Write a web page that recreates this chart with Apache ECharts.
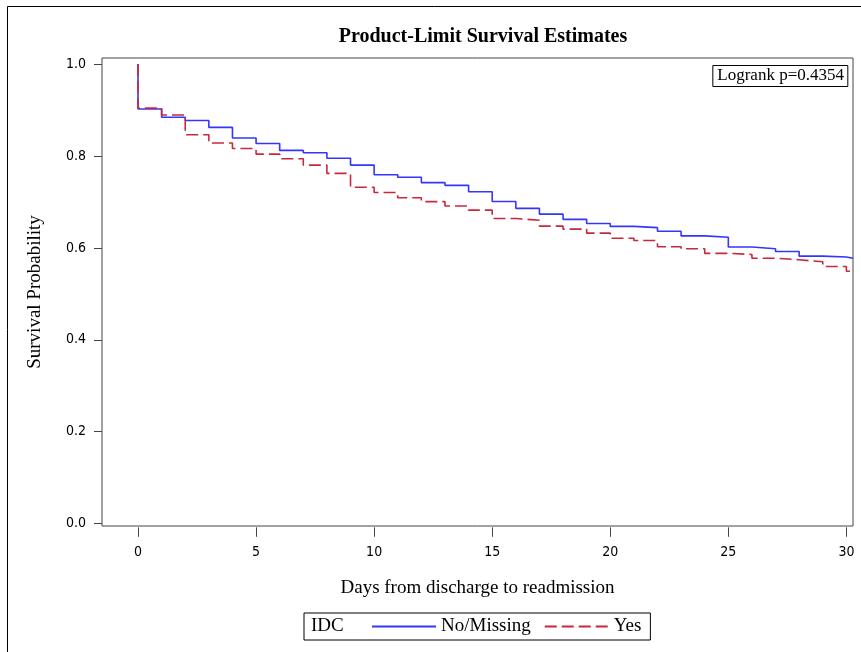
<!DOCTYPE html>
<html>
<head>
<meta charset="utf-8">
<script src="https://cdn.jsdelivr.net/npm/echarts@6/dist/echarts.min.js"></script>
<style>
  html, body { margin: 0; padding: 0; background: #fff; }
  #chart { width: 861px; height: 652px; }
</style>
</head>
<body>
<div id="chart"></div>
<script>
// Kaplan-Meier estimates, one value per day (0..30)
const days = [0, 1, 2, 3, 4, 5, 6, 7, 8, 9, 10, 11, 12, 13, 14, 15, 16, 17, 18, 19, 20,
  21, 22, 23, 24, 25, 26, 27, 28, 29, 30];
const noMissing = [0.902, 0.884, 0.877, 0.862, 0.839, 0.827, 0.812, 0.807, 0.795, 0.780,
  0.759, 0.7535, 0.742, 0.736, 0.722, 0.701, 0.686, 0.6735, 0.662, 0.653, 0.6467,
  0.644, 0.636, 0.626, 0.623, 0.602, 0.598, 0.592, 0.582, 0.580, 0.5775];
const yes = [0.904, 0.889, 0.846, 0.828, 0.816, 0.804, 0.794, 0.780, 0.762, 0.732,
  0.7205, 0.709, 0.7005, 0.691, 0.682, 0.664, 0.660, 0.6474, 0.6408, 0.632, 0.621,
  0.616, 0.6024, 0.598, 0.588, 0.5856, 0.5775, 0.574, 0.5697, 0.5594, 0.549];
const xTicks = [0, 5, 10, 15, 20, 25, 30];
const yTicks = [0.0, 0.2, 0.4, 0.6, 0.8, 1.0];
const pValue = '0.4354';

const X_MIN = -1.525;
const X_MAX = 30.28;
const SERIF = "'Liberation Serif', 'Times New Roman', serif";
const NARROW = "'DejaVu Sans Condensed', 'Liberation Sans Narrow', 'Liberation Sans', sans-serif";

function kmPoints(surv) {
  const pts = [[days[0], 1.0]];
  days.forEach((d, i) => pts.push([d, surv[i]]));
  pts.push([X_MAX, surv[surv.length - 1]]);
  return pts;
}

const hiddenAxis = (gridIndex) => ({ gridIndex, type: 'value', show: false, min: 0, max: 1 });

const chart = echarts.init(document.getElementById('chart'));

chart.setOption({
  animation: false,
  backgroundColor: '#fff',
  title: [
    {
      text: 'Product-Limit Survival Estimates',
      left: 478,
      textAlign: 'center',
      top: 22,
      textStyle: { fontFamily: SERIF, fontSize: 20, fontWeight: 'bold', color: '#000' },
    },
    {
      text: 'Logrank p=' + pValue,
      right: 13,
      top: 65,
      padding: [2, 4, 3, 5],
      borderColor: '#000',
      borderWidth: 1,
      textStyle: { fontFamily: SERIF, fontSize: 17, fontWeight: 'normal', color: '#000' },
    },
  ],
  legend: {
    left: 304,
    top: 613,
    padding: [4, 9, 4, 67],
    borderColor: '#000',
    borderWidth: 1,
    itemWidth: 64,
    itemHeight: 16,
    itemGap: 13,
    itemStyle: { opacity: 0 },
    textStyle: { fontFamily: SERIF, fontSize: 19, color: '#000', lineHeight: 18 },
    data: ['No/Missing', 'Yes'],
  },
  graphic: [
    {
      type: 'rect',
      shape: { x: 7.5, y: 6.5, width: 900, height: 700 },
      style: { fill: 'none', stroke: '#000', lineWidth: 1 },
      silent: true,
      z: -1,
    },
    {
      type: 'text',
      left: 311,
      top: 617,
      style: { text: 'IDC', fontFamily: SERIF, fontSize: 19, fill: '#000' },
    },
  ],
  grid: [
    { left: 102, right: 8, top: 58, bottom: 126, show: true, borderColor: '#444', borderWidth: 1 },
    { left: 138, right: 14.6, top: 58, bottom: 124.7 },
    { left: 102, right: 8, top: 64.5, bottom: 128.7 },
  ],
  xAxis: [
    {
      gridIndex: 0,
      type: 'value',
      min: X_MIN,
      max: X_MAX,
      axisLine: { show: false },
      axisTick: { show: false },
      axisLabel: { show: false },
      splitLine: { show: false },
      name: 'Days from discharge to readmission',
      nameLocation: 'middle',
      nameGap: 53,
      nameTextStyle: { fontFamily: SERIF, fontSize: 19, color: '#000' },
    },
    {
      gridIndex: 1,
      type: 'value',
      min: xTicks[0],
      max: xTicks[xTicks.length - 1],
      interval: xTicks[1] - xTicks[0],
      axisLine: { show: false },
      axisTick: { show: true, length: 9.5, lineStyle: { color: '#444', width: 1 } },
      axisLabel: { margin: 18, fontFamily: NARROW, fontSize: 14, color: '#000' },
      splitLine: { show: false },
    },
    hiddenAxis(2),
  ],
  yAxis: [
    {
      gridIndex: 0,
      type: 'value',
      min: -0.005,
      max: 1.013,
      axisLine: { show: false },
      axisTick: { show: false },
      axisLabel: { show: false },
      splitLine: { show: false },
      name: 'Survival Probability',
      nameLocation: 'middle',
      nameRotate: 90,
      nameGap: 57,
      nameTextStyle: { fontFamily: SERIF, fontSize: 19, color: '#000' },
    },
    hiddenAxis(1),
    {
      gridIndex: 2,
      type: 'value',
      min: yTicks[0],
      max: yTicks[yTicks.length - 1],
      interval: 0.2,
      axisLine: { show: false },
      axisTick: { show: true, length: 8, lineStyle: { color: '#444', width: 1 } },
      axisLabel: {
        margin: 16,
        fontFamily: NARROW,
        fontSize: 14,
        color: '#000',
        formatter: (v) => v.toFixed(1),
      },
      splitLine: { show: false },
    },
  ],
  series: [
    {
      name: 'No/Missing',
      type: 'line',
      xAxisIndex: 0,
      yAxisIndex: 0,
      step: 'end',
      symbol: 'none',
      data: kmPoints(noMissing),
      lineStyle: { color: '#3535ff', width: 1.6 },
      itemStyle: { color: '#3535ff' },
    },
    {
      name: 'Yes',
      type: 'line',
      xAxisIndex: 0,
      yAxisIndex: 0,
      step: 'end',
      symbol: 'none',
      data: kmPoints(yes),
      lineStyle: { color: '#c8283c', width: 1.6, type: [12, 5] },
      itemStyle: { color: '#c8283c' },
    },
  ],
});
</script>
</body>
</html>
